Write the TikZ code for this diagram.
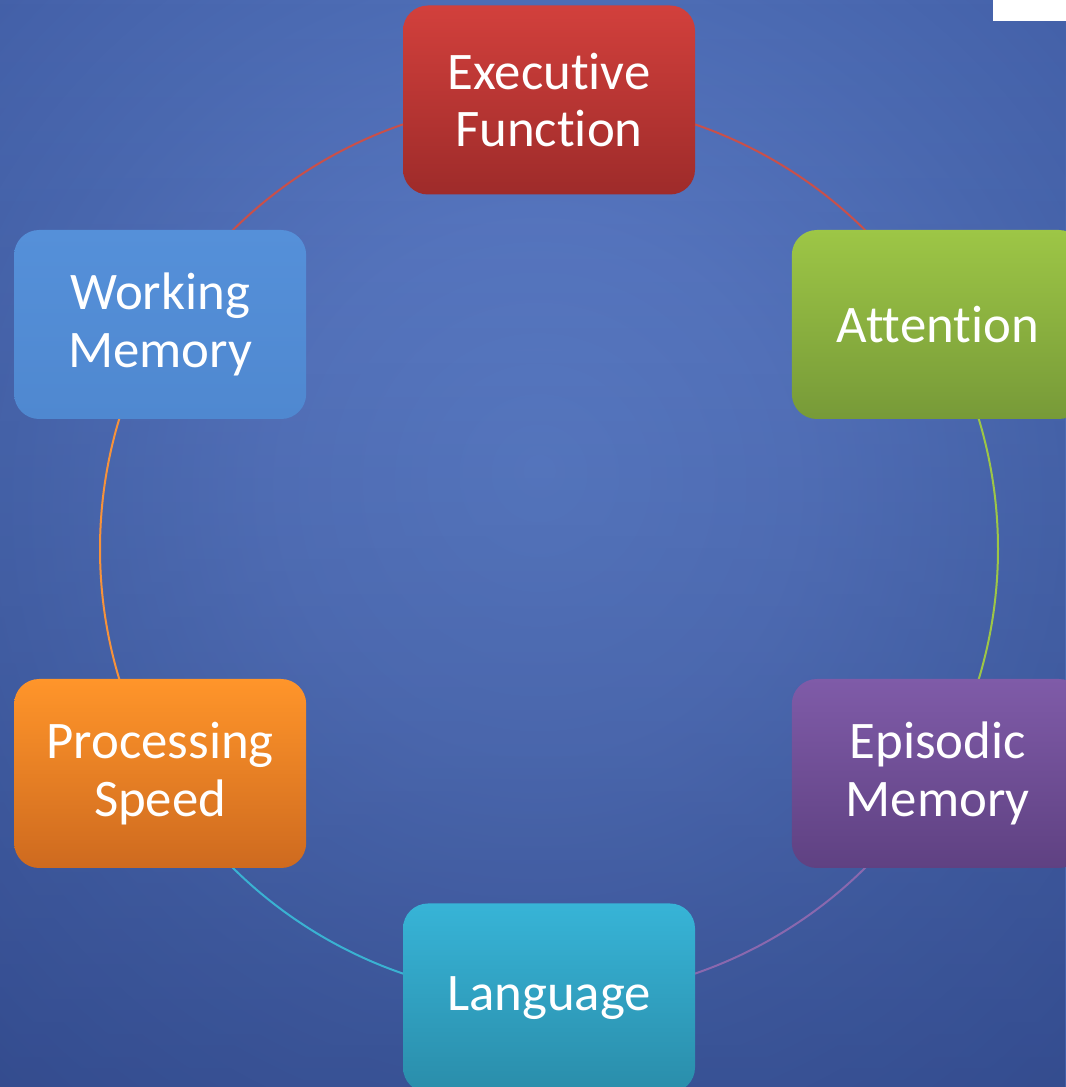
\documentclass[tikz,border=0pt]{standalone}
\usepackage{fontspec}
\setmainfont[Ligatures=NoCommon]{Carlito}
\usetikzlibrary{calc,fadings}
\pgfdeclarelayer{bg}
\pgfdeclarelayer{arcs}
\pgfsetlayers{bg,arcs,main}
\definecolor{bgA}{HTML}{5F82CC}
\definecolor{bgB}{HTML}{5A7AC4}
\definecolor{bgC}{HTML}{4C6BB3}
\definecolor{bgD}{HTML}{4562AA}
\definecolor{bgE}{HTML}{3F5AA0}
\definecolor{bgDark}{HTML}{1B2C66}
\definecolor{redT}{HTML}{D2403C}
\definecolor{redB}{HTML}{9E2B2A}
\definecolor{grnT}{HTML}{9DC646}
\definecolor{grnB}{HTML}{779A38}
\definecolor{purT}{HTML}{7F5BA8}
\definecolor{purB}{HTML}{5F4182}
\definecolor{cyaT}{HTML}{37B4D7}
\definecolor{cyaB}{HTML}{2A8DAA}
\definecolor{orgT}{HTML}{FF952A}
\definecolor{orgB}{HTML}{CE6A1F}
\definecolor{bluT}{HTML}{5590D9}
\definecolor{bluB}{HTML}{4F88D0}
\definecolor{arcRed}{HTML}{C9504A}
\definecolor{arcGrn}{HTML}{9DC646}
\definecolor{arcPur}{HTML}{8A68AE}
\definecolor{arcCya}{HTML}{3AB2D2}
\definecolor{arcOrg}{HTML}{F7923A}
\pgfdeclareradialshading{bgshade}{\pgfpoint{0.3bp}{3.4bp}}{color(0bp)=(bgA); color(12bp)=(bgB); color(25bp)=(bgC); color(33.5bp)=(bgD); color(40bp)=(bgE); color(50bp)=(bgE)}
\tikzfading[name=fadebot, top color=transparent!100, middle color=transparent!100, bottom color=transparent!63]
\tikzset{
  box/.style={rounded corners=25bp, minimum width=292bp, minimum height=189bp,
    text=white, align=center, font=\fontsize{53}{58}\selectfont, inner sep=0pt},
  ring/.style={line width=2bp}
}
\begin{document}
\begin{tikzpicture}[x=1bp,y=1bp]
\useasboundingbox (0,0) rectangle (1066,1087);
\clip (0,0) rectangle (1066,1087);
\begin{pgfonlayer}{bg}
  \shade[shading=bgshade] (0,0) rectangle (1066,1087);
  \fill[bgDark, path fading=fadebot] (0,0) rectangle (1066,1087);
  \fill[white] (993,1066) rectangle (1070,1090);
\end{pgfonlayer}
\coordinate (C) at (549,538);
\node[box, top color=redT, bottom color=redB] (exec) at ($(C)+(90:449)$) {Executive\\Function};
\node[box, top color=grnT, bottom color=grnB] (att) at ($(C)+(30:449)$) {Attention};
\node[box, top color=purT, bottom color=purB] (epi) at ($(C)+(-30:449)$) {Episodic\\Memory};
\node[box, top color=cyaT, bottom color=cyaB] (lang) at ($(C)+(-90:449)$) {Language};
\node[box, top color=orgT, bottom color=orgB] (proc) at ($(C)+(210:449)$) {Processing\\Speed};
\node[box, top color=bluT, bottom color=bluB] (work) at ($(C)+(150:449)$) {Working\\Memory};
\begin{pgfonlayer}{arcs}
  \draw[ring, arcRed] (exec.center) arc[start angle=90, end angle=30, radius=449bp];
  \draw[ring, arcGrn] (att.center) arc[start angle=30, end angle=-30, radius=449bp];
  \draw[ring, arcPur] (epi.center) arc[start angle=-30, end angle=-90, radius=449bp];
  \draw[ring, arcCya] (lang.center) arc[start angle=270, end angle=210, radius=449bp];
  \draw[ring, arcOrg] (proc.center) arc[start angle=210, end angle=150, radius=449bp];
  \draw[ring, arcRed] (work.center) arc[start angle=150, end angle=90, radius=449bp];
\end{pgfonlayer}
\end{tikzpicture}
\end{document}
